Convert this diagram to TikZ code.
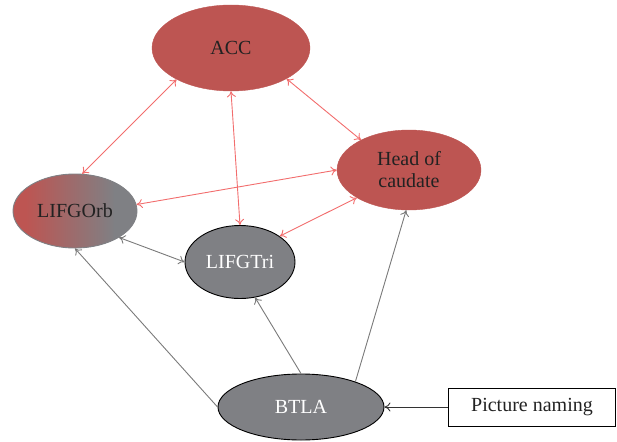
\documentclass[tikz,border=0pt]{standalone}
\usepackage{fontspec}
\setmainfont{Liberation Serif}
\usetikzlibrary{shapes.geometric,arrows.meta}
\definecolor{cred}{HTML}{BD5552}
\definecolor{cgray}{HTML}{7F8084}
\definecolor{carrow}{HTML}{F26D6D}
\definecolor{cgline}{HTML}{7A7A7A}
\definecolor{ctext}{HTML}{222222}
\pgfdeclarehorizontalshading{orbshade}{100bp}{color(0bp)=(cred); color(30bp)=(cred); color(66bp)=(cgray); color(100bp)=(cgray)}
\begin{document}
\begin{tikzpicture}[x=1pt,y=-1pt,
  region/.style={ellipse,inner sep=0pt,font=\fontsize{20}{22}\selectfont,align=center},
  redreg/.style={region,fill=cred,draw=cred,text=ctext},
  grayreg/.style={region,fill=cgray,draw=black,line width=0.9pt,text=white},
  redlink/.style={draw=carrow,line width=0.9pt,{To[length=6pt,width=9pt]}-{To[length=6pt,width=9pt]}},
  graylink/.style={draw=cgline,line width=0.9pt,-{To[length=6pt,width=9pt]}},
  graybi/.style={draw=cgline,line width=0.9pt,{To[length=6pt,width=9pt]}-{To[length=6pt,width=9pt]}}
]
\useasboundingbox (0,0) rectangle (617,441);
\node[redreg,minimum width=158pt,minimum height=86pt] (acc) at (231,48) {ACC};
\node[redreg,minimum width=144pt,minimum height=80pt] (head) at (409,170) {Head of\\caudate};
\node[region,minimum width=124pt,minimum height=74pt,shading=orbshade,draw=cgray,line width=0.9pt,text=ctext] (orb) at (75,211) {LIFGOrb};
\node[grayreg,minimum width=110pt,minimum height=73pt] (tri) at (240,262) {LIFGTri};
\node[grayreg,minimum width=166pt,minimum height=66pt] (btla) at (301,407) {BTLA};
\node[draw=black,line width=0.8pt,minimum width=167pt,minimum height=38pt,inner sep=0pt,font=\fontsize{20}{22}\selectfont,text=ctext] (pn) at (532,407) {Picture naming};

\draw[redlink] (acc.210) -- (orb.79);
\draw[redlink] (acc.270) -- (tri.90);
\draw[redlink] (acc.331) -- (head.148);
\draw[redlink] (head.180) -- (orb.6);
\draw[redlink] (head.208) -- (tri.33);
\draw[graybi] (orb.329) -- (tri.180);
\draw[graylink] (btla.180) -- (orb.270);
\draw[graylink] (btla.90) -- (tri.293);
\draw[graylink] (btla.25) -- (head.266);
\draw[draw=black!80,line width=0.9pt,-{To[length=6pt,width=9pt]}] (pn.west) -- (btla.east);
\end{tikzpicture}
\end{document}
